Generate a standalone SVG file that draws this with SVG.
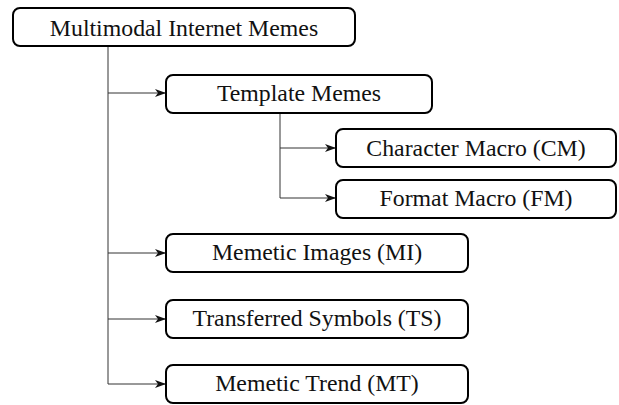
<svg xmlns="http://www.w3.org/2000/svg" width="619" height="405" viewBox="0 0 619 405">
<style>
.box{fill:#fff;stroke:#000;stroke-width:2}
.lbl{font-family:"Liberation Serif","Times New Roman",serif;font-size:23.8px;fill:#111;text-anchor:middle}
.con{fill:none;stroke:#333;stroke-width:1}
</style>
<defs>
<marker id="arr" viewBox="0 0 11 8" refX="10" refY="4" markerWidth="11" markerHeight="8" markerUnits="userSpaceOnUse" orient="auto">
<path d="M0,0 L11,4 L0,8 L3,4 Z" fill="#111"/>
</marker>
</defs>
<g id="connectors">
<path class="con" d="M108,46 V384"/>
<path class="con" d="M108,93 H165" marker-end="url(#arr)"/>
<path class="con" d="M108,253 H165" marker-end="url(#arr)"/>
<path class="con" d="M108,319 H165" marker-end="url(#arr)"/>
<path class="con" d="M108,384 H165" marker-end="url(#arr)"/>
<path class="con" d="M280,113 V198"/>
<path class="con" d="M280,148 H335" marker-end="url(#arr)"/>
<path class="con" d="M280,198 H335" marker-end="url(#arr)"/>
</g>
<g id="root"><rect class="box" x="13" y="8" width="342" height="38" rx="7"/><text class="lbl" x="184" y="35.5">Multimodal Internet Memes</text></g>
<g id="template"><rect class="box" x="166" y="75" width="266" height="38" rx="7"/><text class="lbl" x="299" y="101">Template Memes</text></g>
<g id="cm"><rect class="box" x="336" y="129" width="280" height="38" rx="7"/><text class="lbl" x="476" y="155.5">Character Macro (CM)</text></g>
<g id="fm"><rect class="box" x="336" y="180" width="280" height="38" rx="7"/><text class="lbl" x="476" y="206">Format Macro (FM)</text></g>
<g id="mi"><rect class="box" x="166" y="234" width="302" height="38" rx="7"/><text class="lbl" x="317" y="260">Memetic Images (MI)</text></g>
<g id="ts"><rect class="box" x="166" y="300" width="302" height="38" rx="7"/><text class="lbl" x="317" y="326">Transferred Symbols (TS)</text></g>
<g id="mt"><rect class="box" x="166" y="365" width="302" height="38" rx="7"/><text class="lbl" x="317" y="391">Memetic Trend (MT)</text></g>
</svg>
